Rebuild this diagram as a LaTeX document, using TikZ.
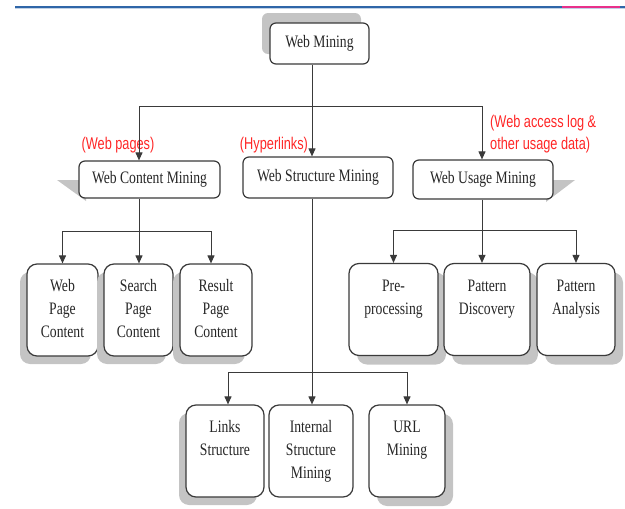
\documentclass[tikz,border=0pt]{standalone}
\usepackage{fontspec}
\setmainfont{Liberation Serif}
\newfontfamily\boxfam[FakeStretch=0.78]{Liberation Serif}
\newfontfamily\notefam[FakeStretch=0.75]{Liberation Sans}
\usetikzlibrary{arrows.meta,shadows}
\definecolor{edge}{HTML}{3A3A3A}
\definecolor{shadowgray}{HTML}{C4C4C4}
\definecolor{notered}{HTML}{FF2626}
\definecolor{ruleblue}{HTML}{2F66A8}
\definecolor{rulepink}{HTML}{E8308A}
\newcommand{\toptext}[1]{\parbox[c][69pt][t]{62pt}{\centering\strut#1}}

\begin{document}
\begin{tikzpicture}[x=1pt,y=-1pt,>={Triangle[length=8pt,width=7pt]},
  box/.style={draw=edge,line width=1.2pt,fill=white,rounded corners=6pt,inner sep=0pt,
    font=\boxfam\fontsize{17.5}{23}\selectfont,text=black!85},
  tallbox/.style={box,rounded corners=10pt,minimum height=92pt},
  lsh/.style={drop shadow={shadow xshift=-7pt,shadow yshift=-8pt,fill=shadowgray,opacity=1}},
  rsh/.style={drop shadow={shadow xshift=8pt,shadow yshift=-9pt,fill=shadowgray,opacity=1}},
  note/.style={text=notered,font=\notefam\fontsize{17}{22}\selectfont,inner sep=0pt},
  link/.style={draw=edge,line width=1pt}]
\useasboundingbox (0,0) rectangle (625,509);
% header rule
\fill[ruleblue!30](15,8.2)rectangle(625,9.4);
\fill[ruleblue](15,6.2)rectangle(625,8.4);
\fill[rulepink](562,6.2)rectangle(620,8.4);
% side shadows of the second level
\fill[shadowgray](57,180)--(86,180)--(86,201)--cycle;
\fill[shadowgray](575,180)--(546,180)--(546,202)--cycle;
% levels 1 and 2
\node[box,minimum width=99pt,minimum height=41pt,
  drop shadow={shadow xshift=-8pt,shadow yshift=10pt,fill=shadowgray,opacity=1}](wm)at(319.5,43.5){Web Mining};
\node[box,minimum width=141pt,minimum height=37pt](wcm)at(149.5,179.5){Web Content Mining};
\node[box,minimum width=150pt,minimum height=41pt](wsm)at(318,177.5){Web Structure Mining};
\node[box,minimum width=140pt,minimum height=39pt](wum)at(483,179.5){Web Usage Mining};
% content branch
\node[tallbox,lsh,minimum width=71pt](wpc)at(62.5,310){\toptext{Web\\Page\\Content}};
\node[tallbox,lsh,minimum width=69pt](spc)at(138.5,310){\toptext{Search\\Page\\Content}};
\node[tallbox,lsh,minimum width=72pt](rpc)at(216,310){\toptext{Result\\Page\\Content}};
% usage branch
\node[tallbox,rsh,minimum width=89pt](pre)at(393.5,309.5){\toptext{Pre-\\processing}};
\node[tallbox,rsh,minimum width=86pt](pd)at(487,309.5){\toptext{Pattern\\Discovery}};
\node[tallbox,rsh,minimum width=78pt](pa)at(576,309.5){\toptext{Pattern\\Analysis}};
% structure branch
\node[tallbox,lsh,minimum width=78pt](ls)at(225,451){\toptext{Links\\Structure}};
\node[tallbox,minimum width=84pt](ism)at(311,451){\toptext{Internal\\Structure\\Mining}};
\node[tallbox,rsh,minimum width=76pt](url)at(407,451){\toptext{URL\\Mining}};
% data labels
\node[note](lbpages)at(118,145){(Web pages)};
\node[note](lblinks)at(274,145){(Hyperlinks)};
\node[note,anchor=west,align=left](lbusage)at(490,134){(Web access log \&\\other usage data)};
% connectors
\coordinate(j0)at(312,106);
\coordinate(j1)at(139,231);
\coordinate(j2)at(482,230);
\coordinate(j3)at(312,372);
\draw[link](wm.south-|j0)--(j0);
\draw[link,->](j0)--(j0|-wsm.north);
\draw[link,->](j0)-|(j1|-wcm.north);
\draw[link,->](j0)-|(j2|-wum.north);
\draw[link](wcm.south-|j1)--(j1);
\draw[link,->](j1)-|(wpc.north);
\draw[link,->](j1)--(j1|-spc.north);
\draw[link,->](j1)-|([xshift=-5pt]rpc.north);
\draw[link](wum.south-|j2)--(j2);
\draw[link,->](j2)-|(pre.north);
\draw[link,->](j2)--(j2|-pd.north);
\draw[link,->](j2)-|(pa.north);
\draw[link](wsm.south-|j3)--(j3);
\draw[link,->](j3)-|([xshift=3pt]ls.north);
\draw[link,->](j3)--(j3|-ism.north);
\draw[link,->](j3)-|(url.north);
\end{tikzpicture}
\end{document}
